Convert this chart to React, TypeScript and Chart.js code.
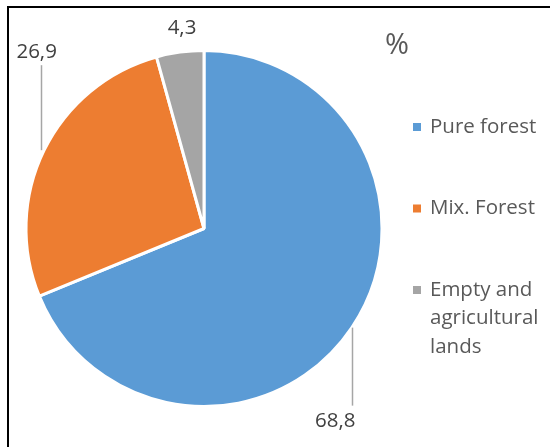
import React, { useEffect, useRef } from "react";
import { Chart, registerables } from "chart.js";

Chart.register(...registerables);

const categories = ["Pure forest", "Mix. Forest", "Empty and agricultural lands"];
const values = [68.8, 26.9, 4.3];
const colors = ["#5B9BD5", "#ED7D31", "#A5A5A5"];
const unitLabel = "%";

// label placement style: leader x shift, vertical leader length, label offset from leader end
const leaderDx = [0, -3, 0];
const leaderLen = [78, -85, 0];
const labelOffset = [
  [-16.5, 16],
  [-4.5, -13],
  [2, -24],
];

const FONT = "'Open Sans', 'Noto Sans', sans-serif";

function wrap(ctx: CanvasRenderingContext2D, text: string, maxW: number): string[] {
  const words = text.split(" ");
  const lines: string[] = [];
  let cur = "";
  for (const w of words) {
    const t = cur ? cur + " " + w : w;
    if (ctx.measureText(t).width > maxW && cur) {
      lines.push(cur);
      cur = w;
    } else cur = t;
  }
  if (cur) lines.push(cur);
  return lines;
}

const decorPlugin = {
  id: "decor",
  afterDraw(chart: any) {
    const ctx: CanvasRenderingContext2D = chart.ctx;
    ctx.save();
    // frame
    ctx.fillStyle = "#000";
    ctx.fillRect(7, 6, 543, 2);
    ctx.fillRect(7, 6, 2, 441);

    // data labels with leader lines
    const meta = chart.getDatasetMeta(0);
    const data = chart.data.datasets[0].data as number[];
    meta.data.forEach((arc: any, i: number) => {
      const p = arc.getProps(["x", "y", "startAngle", "endAngle", "outerRadius"], true);
      const mid = (p.startAngle + p.endAngle) / 2;
      const ex = p.x + Math.cos(mid) * p.outerRadius + leaderDx[i];
      const ey = p.y + Math.sin(mid) * p.outerRadius;
      const ly = ey + leaderLen[i];
      if (leaderLen[i] !== 0) {
        ctx.strokeStyle = "#A6A6A6";
        ctx.lineWidth = 1.5;
        ctx.beginPath();
        ctx.moveTo(Math.round(ex) + 0.5, ey);
        ctx.lineTo(Math.round(ex) + 0.5, ly);
        ctx.stroke();
      }
      ctx.fillStyle = "#404040";
      ctx.font = `20.5px ${FONT}`;
      ctx.textAlign = "center";
      ctx.textBaseline = "middle";
      ctx.fillText(
        data[i].toFixed(1).replace(".", ","),
        ex + labelOffset[i][0],
        ly + labelOffset[i][1]
      );
    });

    // unit label
    ctx.fillStyle = "#595959";
    ctx.font = `29px ${FONT}`;
    ctx.textAlign = "center";
    ctx.textBaseline = "middle";
    ctx.fillText(unitLabel, 397, 46);

    // legend
    const labels = chart.data.labels as string[];
    const bg = chart.data.datasets[0].backgroundColor as string[];
    ctx.font = `20.5px ${FONT}`;
    ctx.textAlign = "left";
    labels.forEach((lab, i) => {
      const cy = 127 + i * 81.5;
      ctx.fillStyle = bg[i];
      ctx.fillRect(413, cy - 4, 8, 8);
      ctx.fillStyle = "#595959";
      const lines = wrap(ctx, lab, 118);
      lines.forEach((ln, j) => {
        ctx.fillText(ln, 430, cy + j * 28.5);
      });
    });
    ctx.restore();
  },
};

export default function App() {
  const ref = useRef<HTMLCanvasElement | null>(null);
  useEffect(() => {
    if (!ref.current) return;
    const chart = new Chart(ref.current, {
      type: "pie",
      data: {
        labels: categories,
        datasets: [
          {
            data: values,
            backgroundColor: colors,
            borderColor: "#FFFFFF",
            borderWidth: 3,
          },
        ],
      },
      options: {
        responsive: false,
        animation: false,
        layout: { padding: { left: 24.5, right: 166.5, top: 49, bottom: 39 } },
        plugins: {
          legend: { display: false },
          tooltip: { enabled: false },
        },
      },
      plugins: [decorPlugin],
    });
    return () => chart.destroy();
  }, []);
  return (
    <div style={{ position: "fixed", left: 0, top: 0, width: 550, height: 447, background: "#fff" }}>
      <canvas ref={ref} width={550} height={447} style={{ width: 550, height: 447 }} />
    </div>
  );
}
